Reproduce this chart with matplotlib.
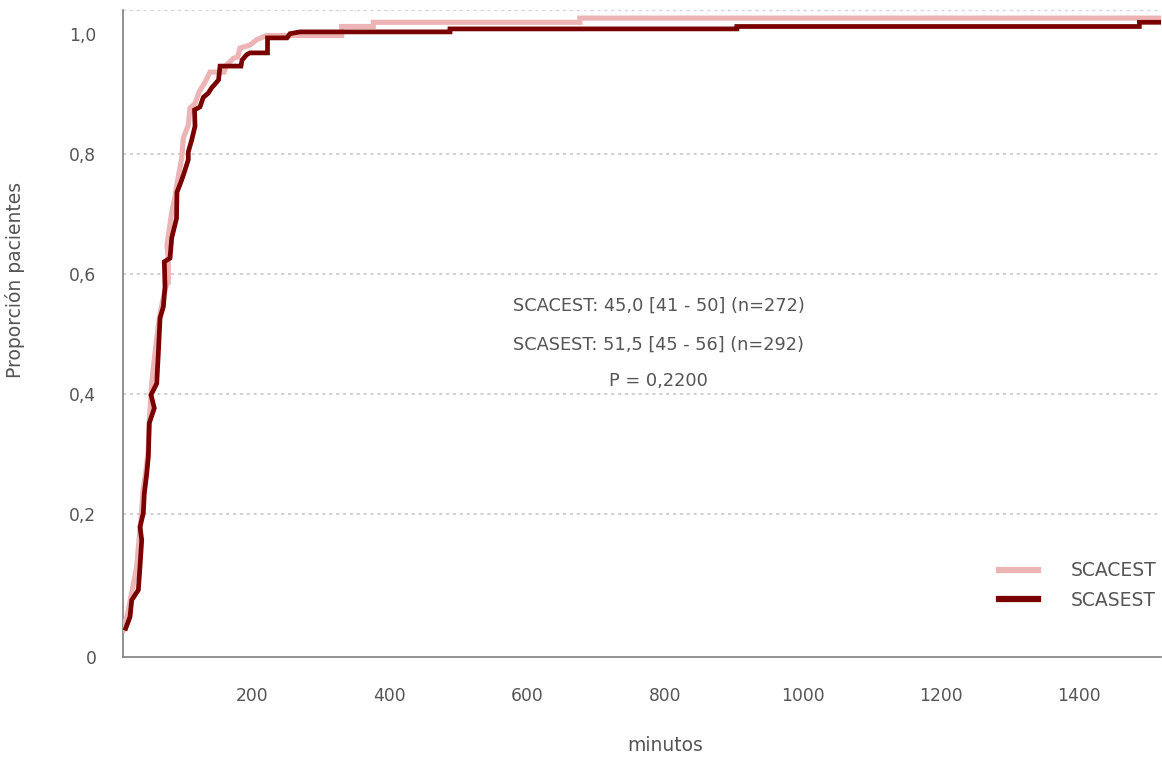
import matplotlib
matplotlib.use("Agg")
import matplotlib.pyplot as plt

# cumulative proportion of patients vs minutes, two groups
scacest_min = [13.2, 20.0, 24.4, 32.7, 35.3, 38.9, 41.8, 46.2, 49.1, 50.5, 54.4, 61.7,
               66.5, 72.3, 76.2, 78.5, 78.5, 76.6, 83.5, 88.2, 91.1, 98.0, 100.3, 107.5,
               110.0, 117.3, 123.1, 131.8, 139.0, 159.4, 163.3, 172.9, 179.0, 182.6,
               197.1, 206.8, 221.3, 330.2, 330.2, 376.1, 376.1, 676.0, 676.0, 1519.3]
scacest_prop = [0.006, 0.036, 0.063, 0.112, 0.148, 0.190, 0.240, 0.273, 0.303, 0.348,
                0.418, 0.493, 0.534, 0.565, 0.584, 0.585, 0.621, 0.648, 0.703, 0.728,
                0.750, 0.793, 0.826, 0.848, 0.876, 0.884, 0.903, 0.919, 0.936, 0.936,
                0.948, 0.959, 0.961, 0.976, 0.981, 0.990, 0.997, 0.997, 1.012, 1.012,
                1.019, 1.019, 1.026, 1.026]

scasest_min = [16.7, 22.9, 25.4, 35.0, 37.4, 39.9, 37.4, 42.2, 43.7, 47.2, 49.5, 50.9,
               58.2, 53.4, 61.7, 64.0, 66.5, 71.3, 73.7, 72.7, 81.0, 83.5, 90.4, 91.1,
               96.2, 100.6, 107.5, 107.5, 112.5, 117.3, 116.5, 124.5, 129.3, 136.6, 141.5,
               146.3, 151.4, 153.6, 184.0, 185.5, 192.3, 197.1, 222.5, 222.5, 250.8,
               255.1, 269.6, 487.4, 487.4, 903.9, 903.9, 1488.1, 1488.1, 1519.3]
scasest_prop = [0.009, 0.028, 0.056, 0.073, 0.112, 0.156, 0.178, 0.201, 0.234, 0.267,
                0.295, 0.351, 0.376, 0.398, 0.417, 0.467, 0.526, 0.545, 0.578, 0.620,
                0.626, 0.660, 0.692, 0.736, 0.751, 0.765, 0.790, 0.803, 0.823, 0.846,
                0.873, 0.878, 0.894, 0.901, 0.910, 0.916, 0.923, 0.946, 0.946, 0.956,
                0.965, 0.968, 0.968, 0.993, 0.993, 1.000, 1.003, 1.003, 1.008, 1.008,
                1.012, 1.012, 1.019, 1.019]

x_ticks = [200, 400, 600, 800, 1000, 1200, 1400]
y_grid = [0.2, 0.4, 0.6, 0.8]
y_labels = ["0", "0,2", "0,4", "0,6", "0,8", "1,0"]
stats_lines = ["SCACEST: 45,0 [41 - 50] (n=272)",
               "SCASEST: 51,5 [45 - 56] (n=292)",
               "P = 0,2200"]

txt = "#555555"
pink = "#edb4b6"
dark = "#7a0000"
plt.rcParams["font.family"] = ["DejaVu Sans"]

fig = plt.figure(figsize=(11.62, 7.57), dpi=100)
ax = fig.add_axes([0.1056, 0.1325, 0.8934, 0.8543])

ymin, ymax = -0.0383, 1.0395
ax.set_xlim(12.3, 1519.3)
ax.set_ylim(ymin, ymax)

for g in y_grid + [ymax]:
    ax.axhline(g, color="#c4c4c4", lw=1.1, ls=(0, (2, 2.5)), zorder=1)

ax.plot(scacest_min, scacest_prop, color=pink, lw=3.7, label="SCACEST",
        solid_joinstyle="miter", zorder=3)
ax.plot(scasest_min, scasest_prop, color=dark, lw=3.4, label="SCASEST",
        solid_joinstyle="miter", zorder=4)

ax.set_xticks(x_ticks)
ax.set_xticklabels([str(t) for t in x_ticks])
ax.set_yticks([ymin] + y_grid + [1.0])
ax.set_yticklabels(y_labels)
ax.tick_params(axis="both", length=0, labelsize=12.3, colors=txt)
ax.tick_params(axis="x", pad=22)
ax.tick_params(axis="y", pad=19)

for s in ["top", "right"]:
    ax.spines[s].set_visible(False)
for s in ["left", "bottom"]:
    ax.spines[s].set_color("#7f7f7f")
    ax.spines[s].set_linewidth(1.2)

ax.set_xlabel("minutos", fontsize=13.5, color=txt)
ax.xaxis.set_label_coords(0.523, -0.122)
ax.set_ylabel("Proporción pacientes", fontsize=13.5, color=txt)
ax.yaxis.set_label_coords(-0.094, 0.5825)

for line, yy in zip(stats_lines, [0.5423, 0.482, 0.4264]):
    ax.text(0.5165, yy, line, transform=ax.transAxes, ha="center", va="center",
            fontsize=12.8, color=txt)

leg = ax.legend(loc="center right", bbox_to_anchor=(0.9962, 0.110), frameon=False,
                fontsize=13.5, handlelength=2.1, handletextpad=1.75, labelspacing=0.55,
                borderaxespad=0, borderpad=0)
for t in leg.get_texts():
    t.set_color(txt)
for h in leg.get_lines():
    h.set_linewidth(4.5)

fig.savefig("out.png", dpi=100)
